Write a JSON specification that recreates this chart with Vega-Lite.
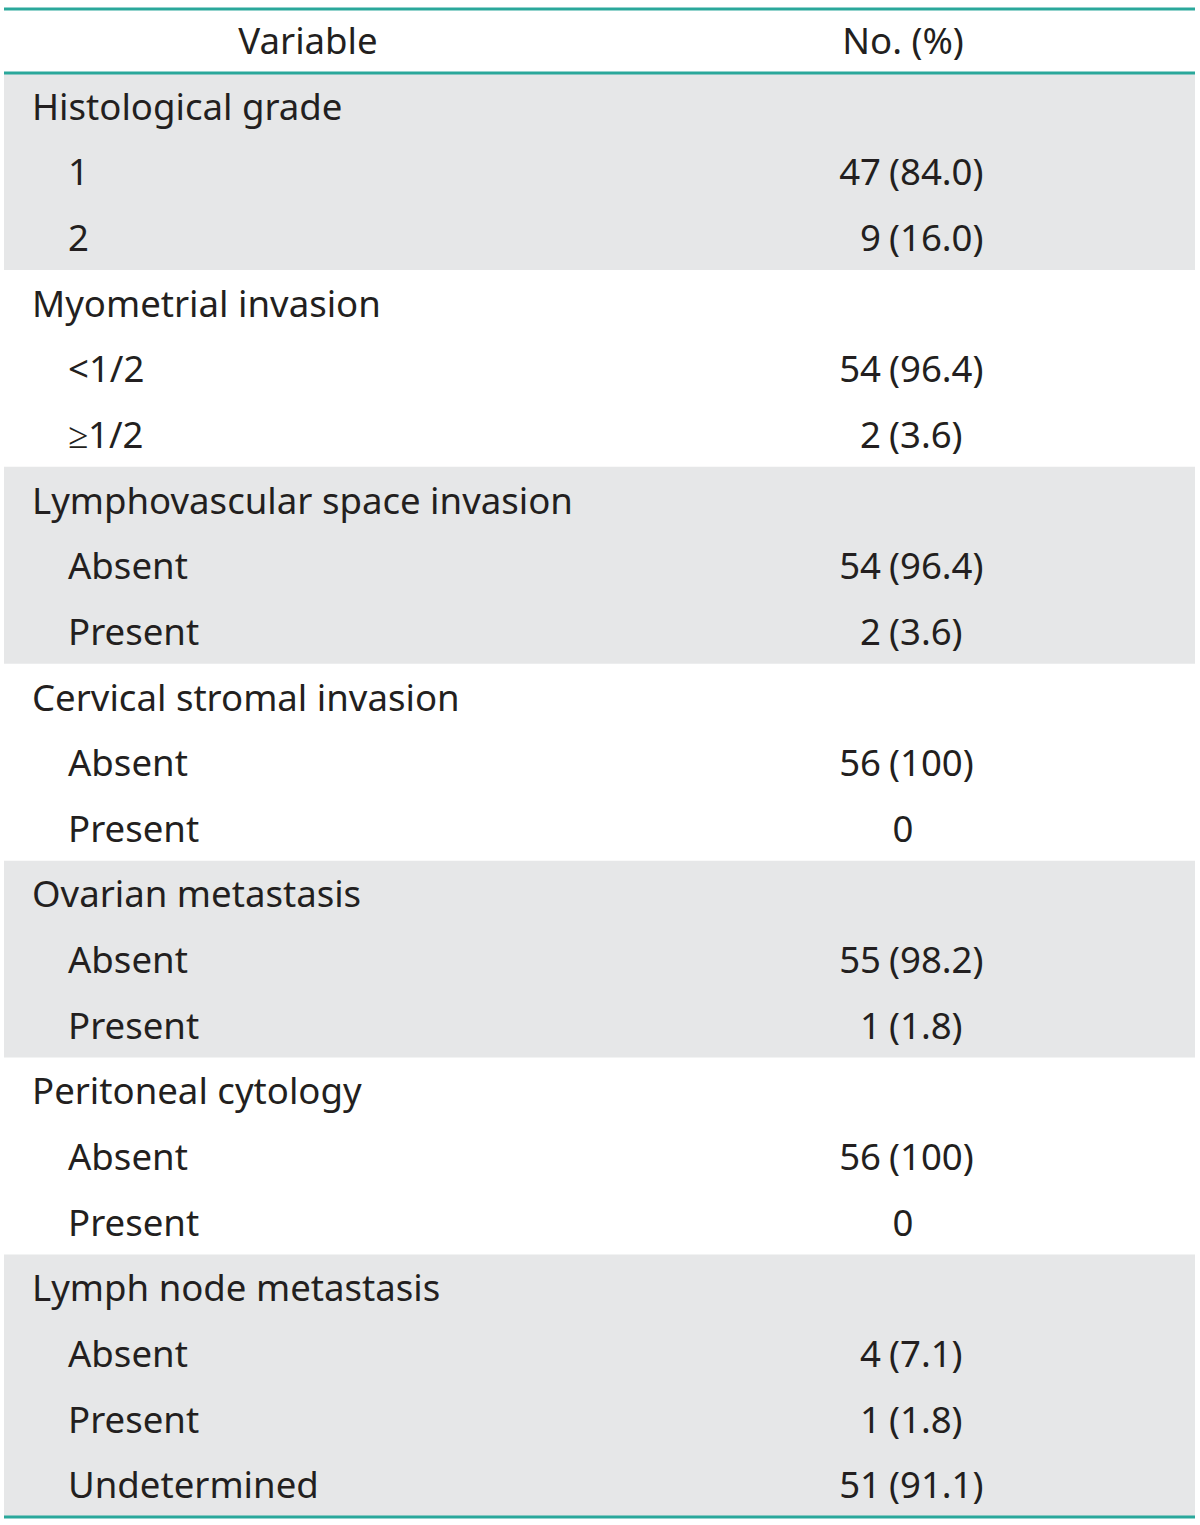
{
  "$schema": "https://vega.github.io/schema/vega-lite/v6.json",
  "width": 1200,
  "height": 1525,
  "padding": 0,
  "autosize": {"type": "none"},
  "background": "white",
  "config": {"view": {"stroke": null}, "text": {"font": "Noto Sans", "fontSize": 36.6, "color": "#231f20", "baseline": "middle", "dy": 3}},
  "datasets": {
    "rows": [
      {"row": 0, "label": "Variable", "kind": "head", "n": "No. (%)", "pct": null},
      {"row": 1, "label": "Histological grade", "kind": "group", "n": null, "pct": null},
      {"row": 2, "label": "1", "kind": "item", "n": "47", "pct": "(84.0)"},
      {"row": 3, "label": "2", "kind": "item", "n": "9", "pct": "(16.0)"},
      {"row": 4, "label": "Myometrial invasion", "kind": "group", "n": null, "pct": null},
      {"row": 5, "label": "<1/2", "kind": "item", "n": "54", "pct": "(96.4)"},
      {"row": 6, "label": "≥1/2", "kind": "item", "n": "2", "pct": "(3.6)"},
      {"row": 7, "label": "Lymphovascular space invasion", "kind": "group", "n": null, "pct": null},
      {"row": 8, "label": "Absent", "kind": "item", "n": "54", "pct": "(96.4)"},
      {"row": 9, "label": "Present", "kind": "item", "n": "2", "pct": "(3.6)"},
      {"row": 10, "label": "Cervical stromal invasion", "kind": "group", "n": null, "pct": null},
      {"row": 11, "label": "Absent", "kind": "item", "n": "56", "pct": "(100)"},
      {"row": 12, "label": "Present", "kind": "item", "n": "0", "pct": null},
      {"row": 13, "label": "Ovarian metastasis", "kind": "group", "n": null, "pct": null},
      {"row": 14, "label": "Absent", "kind": "item", "n": "55", "pct": "(98.2)"},
      {"row": 15, "label": "Present", "kind": "item", "n": "1", "pct": "(1.8)"},
      {"row": 16, "label": "Peritoneal cytology", "kind": "group", "n": null, "pct": null},
      {"row": 17, "label": "Absent", "kind": "item", "n": "56", "pct": "(100)"},
      {"row": 18, "label": "Present", "kind": "item", "n": "0", "pct": null},
      {"row": 19, "label": "Lymph node metastasis", "kind": "group", "n": null, "pct": null},
      {"row": 20, "label": "Absent", "kind": "item", "n": "4", "pct": "(7.1)"},
      {"row": 21, "label": "Present", "kind": "item", "n": "1", "pct": "(1.8)"},
      {"row": 22, "label": "Undetermined", "kind": "item", "n": "51", "pct": "(91.1)"}
    ],
    "bands": [
      {"from": 0.5, "to": 3.5},
      {"from": 6.5, "to": 9.5},
      {"from": 12.5, "to": 15.5},
      {"from": 18.5, "to": 22.5}
    ],
    "lines": [
      {"at": -0.475},
      {"at": 0.5},
      {"at": 22.5}
    ]
  },
  "layer": [
    {
      "data": {"name": "bands"},
      "mark": {"type": "rect", "color": "#e6e7e8"},
      "encoding": {
        "x": {"datum": 4, "type": "quantitative", "scale": {"domain": [0, 1200], "nice": false, "zero": false}, "axis": null},
        "x2": {"datum": 1195},
        "y": {"field": "from", "type": "quantitative", "scale": {"domain": [-0.6122, 22.622], "nice": false, "zero": false, "reverse": true}, "axis": null},
        "y2": {"field": "to"}
      }
    },
    {
      "data": {"name": "lines"},
      "mark": {"type": "rule", "color": "#2aa89b", "strokeWidth": 3},
      "encoding": {
        "x": {"datum": 4, "type": "quantitative"},
        "x2": {"datum": 1195},
        "y": {"field": "at", "type": "quantitative"}
      }
    },
    {
      "data": {"name": "rows"},
      "transform": [{"filter": "datum.kind === 'group'"}],
      "mark": {"type": "text", "align": "left"},
      "encoding": {
        "x": {"datum": 32, "type": "quantitative"},
        "y": {"field": "row", "type": "quantitative"},
        "text": {"field": "label"}
      }
    },
    {
      "data": {"name": "rows"},
      "transform": [{"filter": "datum.kind === 'item'"}],
      "mark": {"type": "text", "align": "left"},
      "encoding": {
        "x": {"datum": 68, "type": "quantitative"},
        "y": {"field": "row", "type": "quantitative"},
        "text": {"field": "label"}
      }
    },
    {
      "data": {"name": "rows"},
      "transform": [{"filter": "datum.kind === 'head'"}],
      "mark": {"type": "text", "align": "center"},
      "encoding": {
        "x": {"datum": 308, "type": "quantitative"},
        "y": {"field": "row", "type": "quantitative"},
        "text": {"field": "label"}
      }
    },
    {
      "data": {"name": "rows"},
      "transform": [{"filter": "datum.kind === 'head' || (datum.n !== null && datum.pct === null)"}],
      "mark": {"type": "text", "align": "center"},
      "encoding": {
        "x": {"datum": 903, "type": "quantitative"},
        "y": {"field": "row", "type": "quantitative"},
        "text": {"field": "n"}
      }
    },
    {
      "data": {"name": "rows"},
      "transform": [{"filter": "datum.kind === 'item' && datum.pct !== null"}],
      "mark": {"type": "text", "align": "right"},
      "encoding": {
        "x": {"datum": 881, "type": "quantitative"},
        "y": {"field": "row", "type": "quantitative"},
        "text": {"field": "n"}
      }
    },
    {
      "data": {"name": "rows"},
      "transform": [{"filter": "datum.kind === 'item' && datum.pct !== null"}],
      "mark": {"type": "text", "align": "left"},
      "encoding": {
        "x": {"datum": 889, "type": "quantitative"},
        "y": {"field": "row", "type": "quantitative"},
        "text": {"field": "pct"}
      }
    }
  ]
}
